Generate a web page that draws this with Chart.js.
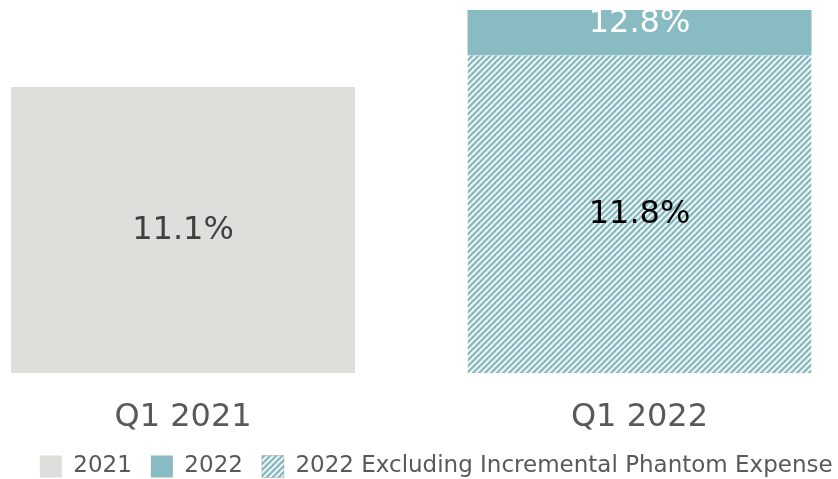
<!DOCTYPE html>
<html>
<head>
<meta charset="utf-8">
<script src="https://cdn.jsdelivr.net/npm/chart.js@4"></script>
<style>
  html, body { margin: 0; padding: 0; background: #ffffff; }
  #wrap { width: 838px; height: 479px; }
</style>
</head>
<body>
<div id="wrap"><canvas id="c" width="838" height="479"></canvas></div>
<script>
// Quarters and the rate reported for each
const categories = ['Q1 2021', 'Q1 2022'];
const rate2021 = [11.1, null];
const rate2022 = [null, 12.8];
const rate2022ExPhantom = [null, 11.8];

const GREY = '#DEDEDA';
const TEAL = '#89BBC2';
const TEXT = '#595959';
const FONT = "'DejaVu Sans', Verdana, sans-serif";

// Diagonal stripe fill for the "excluding" series
function stripes(color) {
  const n = 6;
  const t = document.createElement('canvas');
  t.width = n; t.height = n;
  const g = t.getContext('2d');
  g.fillStyle = '#ffffff';
  g.fillRect(0, 0, n, n);
  g.strokeStyle = color;
  g.lineWidth = 2.6;
  g.beginPath();
  g.moveTo(-1, n + 1); g.lineTo(n + 1, -1);
  g.moveTo(-2, 2); g.lineTo(2, -2);
  g.moveTo(n - 2, n + 2); g.lineTo(n + 2, n - 2);
  g.stroke();
  return g.createPattern(t, 'repeat');
}
const hatch = stripes(TEAL);

// The 2022 solid segment sits on top of the excluding-phantom level
const seg2022 = categories.map((c, i) => ({
  x: i,
  y: rate2022[i] == null ? null : [rate2022ExPhantom[i], rate2022[i]]
}));
const pts = arr => categories.map((c, i) => ({ x: i, y: arr[i] }));

// Bars may spill a little past the left edge of the plot, but never below it
const barClip = { left: 20, right: 0, top: 0, bottom: 0 };

// Value labels written inside each bar (visible part of the bar)
const barLabels = {
  id: 'barLabels',
  afterDatasetsDraw(chart) {
    const ctx = chart.ctx;
    const area = chart.chartArea;
    ctx.save();
    ctx.textAlign = 'center';
    ctx.textBaseline = 'middle';
    ctx.font = '32px ' + FONT;
    chart.data.datasets.forEach((ds, di) => {
      const meta = chart.getDatasetMeta(di);
      meta.data.forEach((bar, j) => {
        const v = ds.labelValues[j];
        if (v == null) return;
        const p = bar.getProps(['x', 'y', 'base'], true);
        const top = Math.max(area.top, Math.min(p.y, p.base));
        const bottom = Math.min(area.bottom, Math.max(p.y, p.base));
        const y = ds.labelAtTop ? top + 14 : (top + bottom) / 2 + 1;
        ctx.fillStyle = ds.labelColor;
        ctx.fillText(v.toFixed(1) + '%', p.x, y);
      });
    });
    ctx.restore();
  }
};

new Chart(document.getElementById('c'), {
  type: 'bar',
  data: {
    datasets: [
      {
        label: '2021',
        data: pts(rate2021),
        labelValues: rate2021,
        labelColor: '#404040',
        backgroundColor: GREY,
        clip: barClip
      },
      {
        label: '2022',
        data: seg2022,
        labelValues: rate2022,
        labelColor: '#ffffff',
        labelAtTop: true,
        backgroundColor: TEAL,
        clip: barClip
      },
      {
        label: '2022 Excluding Incremental Phantom Expense',
        data: pts(rate2022ExPhantom),
        labelValues: rate2022ExPhantom,
        labelColor: '#000000',
        backgroundColor: hatch,
        borderColor: '#555555',
        borderWidth: { top: 0, left: 0, right: 0, bottom: 1 },
        borderSkipped: false,
        clip: barClip
      }
    ]
  },
  options: {
    responsive: false,
    animation: false,
    datasets: {
      bar: { grouped: false, categoryPercentage: 1, barPercentage: 0.7536 }
    },
    layout: { padding: { left: 20, right: -14.5, top: 9, bottom: -9 } },
    scales: {
      x: {
        type: 'linear',
        offset: false,
        min: -0.3571,
        max: 1.4348,
        grid: { display: false, drawTicks: false },
        border: { display: false },
        afterBuildTicks: axis => { axis.ticks = categories.map((c, i) => ({ value: i })); },
        afterFit: axis => { axis.height = 63; },
        ticks: {
          autoSkip: false,
          maxRotation: 0,
          padding: 25,
          color: TEXT,
          font: { family: FONT, size: 32 },
          callback: v => categories[v]
        }
      },
      y: {
        display: false,
        min: 4.8,
        max: 12.82
      }
    },
    plugins: {
      legend: {
        position: 'bottom',
        labels: {
          boxWidth: 22,
          boxHeight: 22,
          padding: 19,
          color: TEXT,
          font: { family: FONT, size: 23 }
        }
      },
      tooltip: { enabled: false }
    }
  },
  plugins: [barLabels]
});
</script>
</body>
</html>
